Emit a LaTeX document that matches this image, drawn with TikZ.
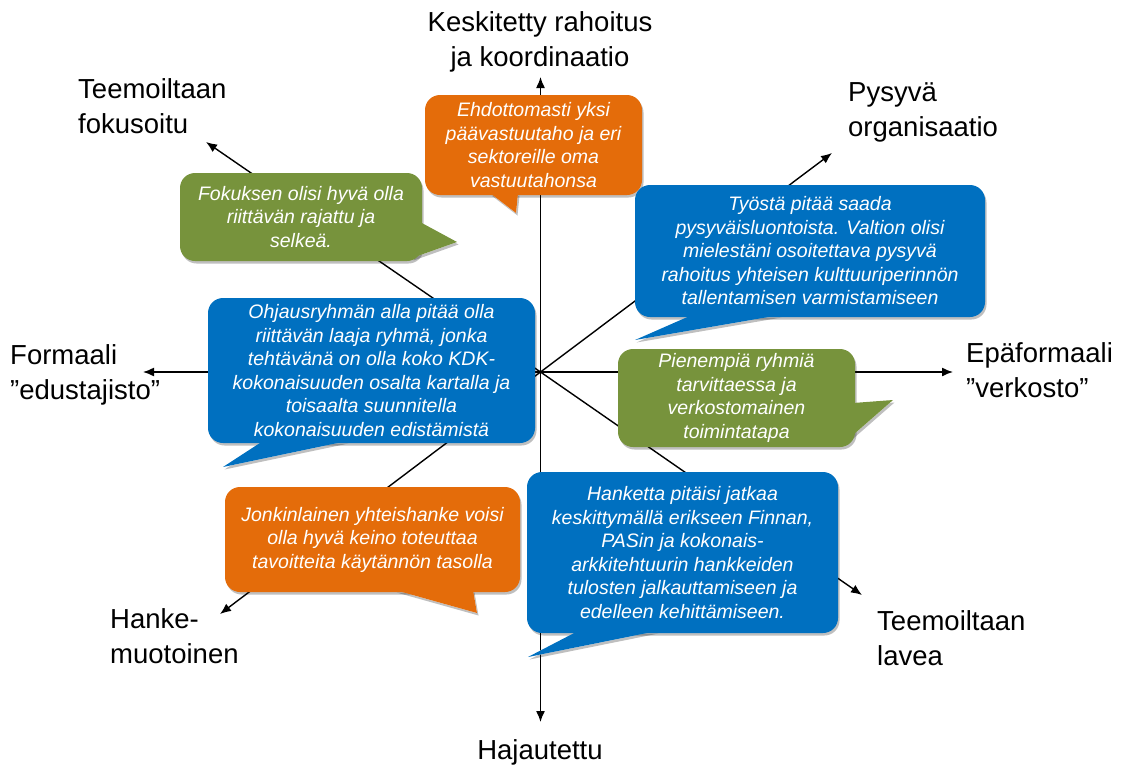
\documentclass[tikz,border=0pt]{standalone}
\usepackage{fontspec}
\setmainfont{Liberation Sans}
\usetikzlibrary{arrows.meta,shadows}
\definecolor{cgreen}{RGB}{119,147,60}
\definecolor{corange}{RGB}{228,108,10}
\definecolor{cblue}{RGB}{0,112,192}
\begin{document}
\begin{tikzpicture}[x=1pt,y=-1pt,
  axis/.style={line width=1.4pt,-{Latex[length=11pt,width=9pt]}},
  axlabel/.style={font=\fontsize{27.5}{35}\selectfont, align=left, inner sep=0pt},
  bubble/.style={rounded corners=15pt, inner sep=0pt, text=white, align=center,
    font=\fontsize{19.5}{23.5}\selectfont\itshape},
  shade/.style={drop shadow={shadow xshift=1.5pt,shadow yshift=-2.5pt,opacity=0.25,fill=black}},
]
\useasboundingbox (0,0) rectangle (1130,769);

% axes
\coordinate (O) at (540.5,372);
\coordinate (tN) at (540.5,77);
\coordinate (tS) at (540.5,722);
\coordinate (tW) at (143,372);
\coordinate (tE) at (953,372);
\coordinate (tNW) at (206,142);
\coordinate (tNE) at (832,153);
\coordinate (tSW) at (220,614);
\coordinate (tSE) at (862,595);
\foreach \t in {tN,tS,tW,tE,tNW,tNE,tSW,tSE}
  \draw[axis] (O) -- (\t);

% axis labels
\node[axlabel, align=center] (lN) at (540,42) {Keskitetty rahoitus\\ja koordinaatio};
\node[axlabel, anchor=west] (lNW) at (78,106) {Teemoiltaan\\fokusoitu};
\node[axlabel, anchor=west] (lNE) at (848,112) {Pysyvä\\organisaatio};
\node[axlabel, anchor=west] (lW) at (10,375) {Formaali\\”edustajisto”};
\node[axlabel, anchor=west] (lE) at (966,370) {Epäformaali\\”verkosto”};
\node[axlabel, anchor=west] (lSW) at (110,636) {Hanke-\\muotoinen};
\node[axlabel, anchor=west] (lSE) at (877,638) {Teemoiltaan\\lavea};
\node[axlabel] (lS) at (540,752) {Hajautettu};

% pointer coordinates
\coordinate (p1a) at (420,222); \coordinate (p1t) at (457,242); \coordinate (p1b) at (412,258);
\coordinate (p2a) at (490,193); \coordinate (p2t) at (516,213); \coordinate (p2b) at (518,193);
\coordinate (p3a) at (692,315); \coordinate (p3t) at (635,340); \coordinate (p3b) at (780,315);
\coordinate (p4a) at (263,441); \coordinate (p4t) at (223,467); \coordinate (p4b) at (347,441);
\coordinate (p5a) at (853,403); \coordinate (p5t) at (893,400); \coordinate (p5b) at (845,442);
\coordinate (p6a) at (395,590); \coordinate (p6t) at (477,613); \coordinate (p6b) at (473,590);
\coordinate (p7a) at (578,631); \coordinate (p7t) at (528,657); \coordinate (p7b) at (657,631);

% pointer shadows
\foreach \i in {1,...,7}
  \fill[shade, white] (p\i a) -- (p\i t) -- (p\i b) -- cycle;

% bubbles
\node[bubble, shade, fill=cgreen, minimum width=242pt, minimum height=88pt] (b1) at (301,217)
  {Fokuksen olisi hyvä olla\\riittävän rajattu ja\\selkeä.};
\node[bubble, shade, fill=corange, minimum width=217pt, minimum height=100pt] (b2) at (533.5,145)
  {Ehdottomasti yksi\\päävastuutaho ja eri\\sektoreille oma\\vastuutahonsa};
\node[bubble, shade, fill=cblue, minimum width=350pt, minimum height=132pt] (b3) at (810,251)
  {Työstä pitää saada\\pysyväisluontoista. Valtion olisi\\mielestäni osoitettava pysyvä\\rahoitus yhteisen kulttuuriperinnön\\tallentamisen varmistamiseen};
\node[bubble, shade, fill=cblue, minimum width=327pt, minimum height=145pt] (b4) at (371.5,370.5)
  {Ohjausryhmän alla pitää olla\\riittävän laaja ryhmä, jonka\\tehtävänä on olla koko KDK-\\kokonaisuuden osalta kartalla ja\\toisaalta suunnitella\\kokonaisuuden edistämistä};
\node[bubble, shade, fill=cgreen, minimum width=237pt, minimum height=98pt] (b5) at (736.5,398)
  {Pienempiä ryhmiä\\tarvittaessa ja\\verkostomainen\\toimintatapa};
\node[bubble, shade, fill=corange, minimum width=295pt, minimum height=105pt] (b6) at (372.5,539.5)
  {Jonkinlainen yhteishanke voisi\\olla hyvä keino toteuttaa\\tavoitteita käytännön tasolla};
\node[bubble, shade, fill=cblue, minimum width=311pt, minimum height=161pt] (b7) at (682.5,552.5)
  {Hanketta pitäisi jatkaa\\keskittymällä erikseen Finnan,\\PASin ja kokonais-\\arkkitehtuurin hankkeiden\\tulosten jalkauttamiseen ja\\edelleen kehittämiseen.};

% pointers
\fill[cgreen]  (p1a) -- (p1t) -- (p1b) -- cycle;
\fill[corange] (p2a) -- (p2t) -- (p2b) -- cycle;
\fill[cblue]   (p3a) -- (p3t) -- (p3b) -- cycle;
\fill[cblue]   (p4a) -- (p4t) -- (p4b) -- cycle;
\fill[cgreen]  (p5a) -- (p5t) -- (p5b) -- cycle;
\fill[corange] (p6a) -- (p6t) -- (p6b) -- cycle;
\fill[cblue]   (p7a) -- (p7t) -- (p7b) -- cycle;
\end{tikzpicture}
\end{document}
